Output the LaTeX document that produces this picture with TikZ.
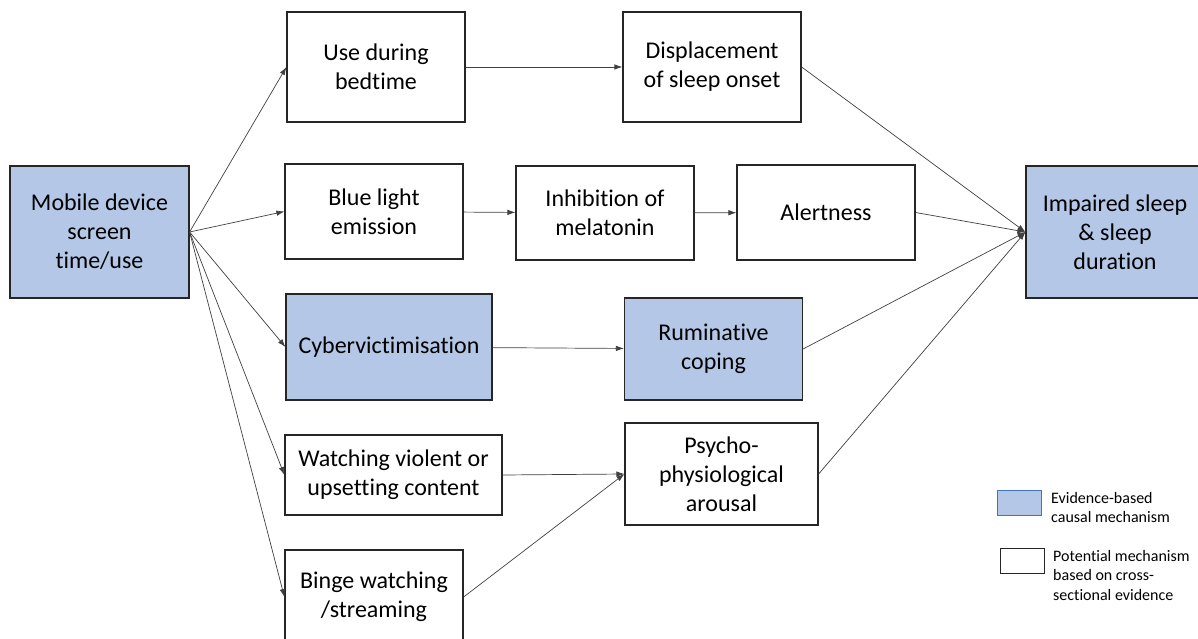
\documentclass[tikz,border=0pt]{standalone}
\usepackage{fontspec}
\setmainfont[Ligatures=NoCommon]{Carlito}
\usetikzlibrary{
  arrows.meta,
}
\definecolor{evblue}{HTML}{B4C7E7}
\definecolor{keyblue}{HTML}{4472C4}

\begin{document}
\begin{tikzpicture}[
  x=1pt,
  y=-1pt,
  box/.style n args={2}{
    draw=black!85,
    line width=1.2pt,
    fill=white,
    align=center,
    inner sep=0pt,
    minimum width=#1pt,
    minimum height=#2pt,
    font={\fontsize{24}{29}\selectfont},
  },
  evidence/.style={
    fill=evblue,
  },
  swatch/.style={
    draw=black!85,
    line width=1pt,
    inner sep=0pt,
    minimum width=44pt,
    minimum height=25pt,
  },
  key/.style={
    anchor=west,
    align=left,
    inner sep=0pt,
    font={\fontsize{16}{19.5}\selectfont},
  },
  arrow/.style={
    -{Latex[length=8pt,width=5.5pt]},
    draw=black!75,
    line width=0.7pt,
  },
]
  \useasboundingbox (0,0) rectangle (1198,639);

  %%%%%%%%%%%%%%%%%%%% Boxes %%%%%%%%%%%%%%%%%%%%

  \node[box={179}{132}, evidence] (screen) at (99.5,232)
    {Mobile device\\screen\\time/use};

  \node[box={178}{110}] (bedtime) at (376,67) {Use during\\bedtime};
  \node[box={178}{110}] (displace) at (712,67)
    {Displacement\\of sleep onset};

  \node[box={178}{95}] (bluelight) at (374,211.5) {Blue light\\emission};
  \node[box={178}{94}] (melatonin) at (605,213) {Inhibition of\\melatonin};
  \node[box={178}{95}] (alert) at (826,212.5) {Alertness};

  \node[box={178}{132}, evidence] (sleep) at (1115,232)
    {Impaired sleep\\\& sleep\\duration};

  \node[box={206}{106}, evidence] (cyber) at (389,347) {Cybervictimisation};
  \node[box={178}{102}, evidence] (rumin) at (713.5,349)
    {Ruminative\\coping};

  \node[box={217}{80}] (violent) at (393.5,475)
    {Watching violent or\\upsetting content};
  \node[box={193}{102}] (arousal) at (721.5,474)
    {Psycho-\\physiological\\arousal};

  \node[box={178}{94}] (binge) at (374,597) {Binge watching\\/streaming};

  %%%%%%%%%%%%%%%%%%%% Arrows %%%%%%%%%%%%%%%%%%%%

  \foreach \t in {bedtime,bluelight,cyber,violent,binge} {
    \draw[arrow] (screen.east) -- (\t.west);
  }

  \draw[arrow] (bedtime) -- (displace);
  \draw[arrow] (bluelight) -- (melatonin);
  \draw[arrow] (melatonin) -- (alert);
  \draw[arrow] (cyber) -- (rumin);
  \draw[arrow] (violent.east) -- (arousal.west);
  \draw[arrow] (binge.east) -- (arousal.west);

  \foreach \s in {displace,alert,rumin,arousal} {
    \draw[arrow] (\s.east) -- (sleep.west);
  }

  %%%%%%%%%%%%%%%%%%%% Legend %%%%%%%%%%%%%%%%%%%%

  \node[swatch, draw=keyblue, fill=evblue] (key-ev) at (1019,502.5) {};
  \node[key] (key-ev-text) at (1051,507.5)
    {Evidence-based\\causal mechanism};

  \node[swatch] (key-pot) at (1022,560.5) {};
  \node[key] (key-pot-text) at (1053,575)
    {Potential mechanism\\based on cross-\\sectional evidence};
\end{tikzpicture}
\end{document}
